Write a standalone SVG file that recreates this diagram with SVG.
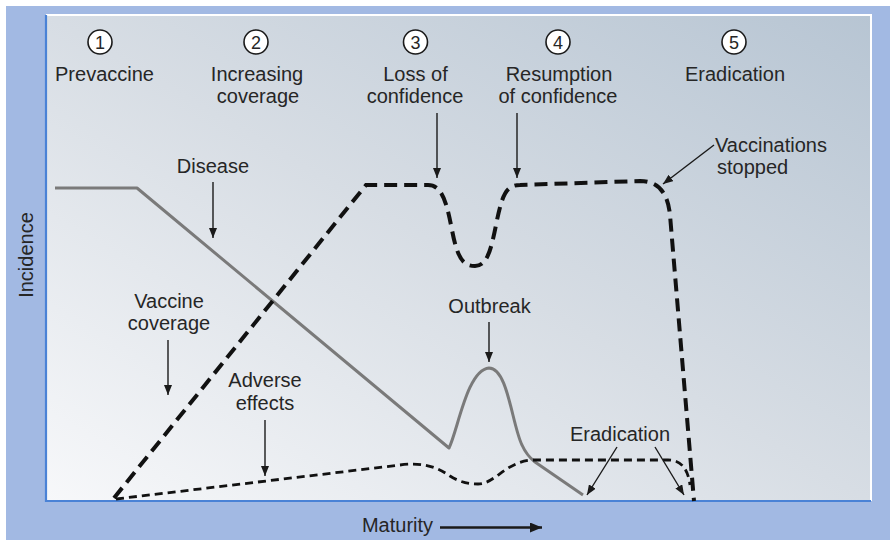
<svg xmlns="http://www.w3.org/2000/svg" width="890" height="541" viewBox="0 0 890 541">
<defs>
<linearGradient id="panel" x1="0" y1="1" x2="1" y2="0">
<stop offset="0" stop-color="#f7f8fa"/>
<stop offset="0.5" stop-color="#d7dde4"/>
<stop offset="1" stop-color="#b7c5d3"/>
</linearGradient>
<marker id="ah" viewBox="0 0 10 8" refX="10" refY="4" markerWidth="10" markerHeight="8" markerUnits="userSpaceOnUse" orient="auto">
<path d="M0,0 L10,4 L0,8 Z" fill="#1a1a1a"/>
</marker>
<marker id="ahBig" viewBox="0 0 12 10" refX="12" refY="5" markerWidth="12" markerHeight="10" markerUnits="userSpaceOnUse" orient="auto">
<path d="M0,0 L12,5 L0,10 Z" fill="#1a1a1a"/>
</marker>
</defs>
<style>
text{font-family:"Liberation Sans",Arial,Helvetica,sans-serif;fill:#262626;font-size:20px}
.c{text-anchor:middle}
.num{font-size:18px;text-anchor:middle}
.circ{fill:#ffffff;stroke:#1a1a1a;stroke-width:1.6}
.arrow{stroke:#1a1a1a;stroke-width:1.4;fill:none;marker-end:url(#ah)}
.disease{stroke:#7a7a7a;stroke-width:3;fill:none;stroke-linejoin:round}
.coverage{stroke:#111;stroke-width:4;fill:none;stroke-dasharray:13 7}
.adverse{stroke:#111;stroke-width:2.8;fill:none;stroke-dasharray:8 5}
</style>
<rect x="0" y="0" width="890" height="541" fill="#ffffff"/>
<rect x="6" y="6" width="884" height="534" fill="#a2b9e3"/>
<rect x="46" y="15" width="825" height="486" fill="url(#panel)"/>
<path d="M46,15 L871,15 L871,501" fill="none" stroke="#ffffff" stroke-width="2"/>
<path d="M46,15 L46,501 L871,501" fill="none" stroke="#4a82d6" stroke-width="2.2"/>

<g id="phase1">
<circle class="circ" cx="100" cy="42" r="12"/>
<text class="num" x="100" y="48.5">1</text>
<text class="c" x="104.5" y="81">Prevaccine</text>
</g>
<g id="phase2">
<circle class="circ" cx="256" cy="42" r="12"/>
<text class="num" x="256" y="48.5">2</text>
<text class="c" x="257" y="81">Increasing</text>
<text class="c" x="258" y="103">coverage</text>
</g>
<g id="phase3">
<circle class="circ" cx="415.5" cy="42" r="12"/>
<text class="num" x="415.5" y="48.5">3</text>
<text class="c" x="415.5" y="81">Loss of</text>
<text class="c" x="415" y="103">confidence</text>
</g>
<g id="phase4">
<circle class="circ" cx="558" cy="42" r="12"/>
<text class="num" x="558" y="48.5">4</text>
<text class="c" x="559" y="81">Resumption</text>
<text class="c" x="558" y="103">of confidence</text>
</g>
<g id="phase5">
<circle class="circ" cx="734" cy="42" r="12"/>
<text class="num" x="734" y="48.5">5</text>
<text class="c" x="735" y="81">Eradication</text>
</g>

<g id="labels">
<text class="c" x="213" y="173">Disease</text>
<text class="c" x="169" y="308">Vaccine</text>
<text class="c" x="169" y="330">coverage</text>
<text class="c" x="265" y="387">Adverse</text>
<text class="c" x="265" y="410">effects</text>
<text class="c" x="489.5" y="313">Outbreak</text>
<text class="c" x="620" y="441">Eradication</text>
<text x="715" y="152">Vaccinations</text>
<text x="717" y="174">stopped</text>
</g>

<g id="axes">
<text class="c" x="397.5" y="532">Maturity</text>
<line x1="440" y1="527.5" x2="542" y2="527.5" stroke="#1a1a1a" stroke-width="2.6" marker-end="url(#ahBig)"/>
<text class="c" transform="translate(33,255) rotate(-90)">Incidence</text>
</g>

<g id="curves">
<path id="disease" class="disease" d="M55,188 L137,188 L449,448 C458,430 467,370 489,368 C508,368 512,425 522,445 C526,454 530,458 535,462 L583,495"/>
<path id="coverage" class="coverage" d="M114,498 L366,185 L428,185 C443,185 447,205 452,230 C458,262 465,266 475,266 C487,266 491,250 496,225 C502,195 506,185 520,185 L640,181 C660,181 668,195 670,215 L694,501"/>
<path id="adverse" class="adverse" d="M116,499 L400,465 C420,462 436,466 450,476 C461,483 470,484 478,484 C495,484 505,462 532,460 L668,460 C682,460 688,470 690,485"/>
</g>

<g id="connectors">
<line class="arrow" x1="437" y1="113" x2="437" y2="178"/>
<line class="arrow" x1="517" y1="113" x2="517" y2="178"/>
<line class="arrow" x1="714" y1="145" x2="663" y2="184"/>
<line class="arrow" x1="213" y1="182" x2="213" y2="238"/>
<line class="arrow" x1="168" y1="340" x2="168" y2="395"/>
<line class="arrow" x1="265" y1="420" x2="265" y2="476"/>
<line class="arrow" x1="489" y1="322" x2="489" y2="362"/>
<line class="arrow" x1="617" y1="447" x2="587" y2="495"/>
<line class="arrow" x1="655" y1="447" x2="684" y2="495"/>
</g>
</svg>
